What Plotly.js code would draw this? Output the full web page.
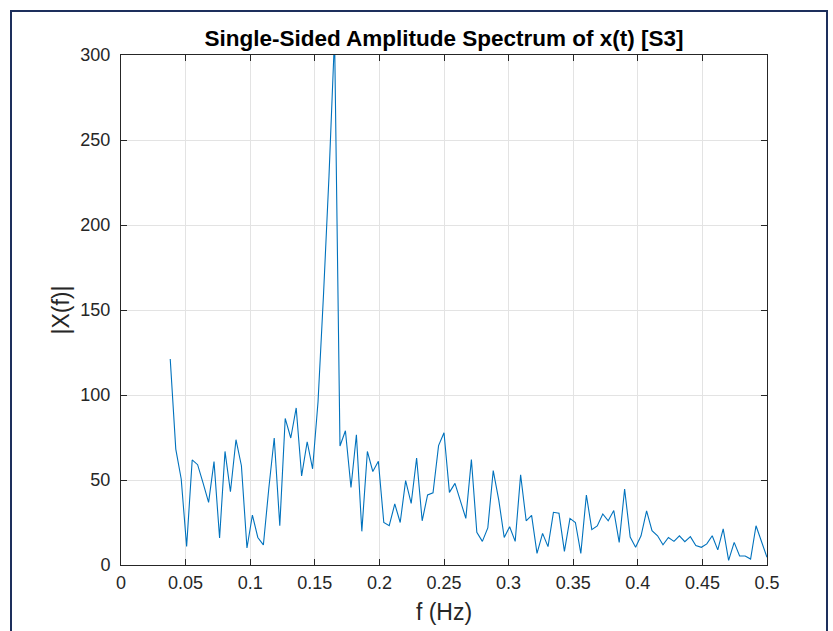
<!DOCTYPE html>
<html>
<head>
<meta charset="utf-8">
<script src="https://cdn.plot.ly/plotly-3.0.1.min.js"></script>
<style>
  html, body { margin: 0; padding: 0; background: #ffffff; }
  #wrap { position: relative; width: 833px; height: 631px; overflow: hidden; }
  #chart { position: absolute; left: 0; top: 0; width: 833px; height: 631px; }
  #frame { position: absolute; left: 10px; top: 10px; width: 818px; height: 640px;
           border: 2px solid #1d2f5c; pointer-events: none; box-sizing: border-box; }
</style>
</head>
<body>
<div id="wrap">
  <div id="chart"></div>
  <div id="frame"></div>
</div>
<script>
// Frequency bins (Hz)
const freq = [
  0.0381, 0.0424, 0.0466, 0.0508, 0.0551, 0.0593, 0.0636, 0.0678, 0.0720, 0.0763,
  0.0805, 0.0847, 0.0890, 0.0932, 0.0975, 0.1017, 0.1059, 0.1102, 0.1144, 0.1186,
  0.1229, 0.1271, 0.1314, 0.1356, 0.1398, 0.1441, 0.1483, 0.1525, 0.1568, 0.1610,
  0.1653, 0.1695, 0.1737, 0.1780, 0.1822, 0.1864, 0.1907, 0.1949, 0.1992, 0.2034,
  0.2076, 0.2119, 0.2161, 0.2203, 0.2246, 0.2288, 0.2331, 0.2373, 0.2415, 0.2458,
  0.2500, 0.2542, 0.2585, 0.2627, 0.2669, 0.2712, 0.2754, 0.2797, 0.2839, 0.2881,
  0.2924, 0.2966, 0.3008, 0.3051, 0.3093, 0.3136, 0.3178, 0.3220, 0.3263, 0.3305,
  0.3347, 0.3390, 0.3432, 0.3475, 0.3517, 0.3559, 0.3602, 0.3644, 0.3686, 0.3729,
  0.3771, 0.3814, 0.3856, 0.3898, 0.3941, 0.3983, 0.4025, 0.4068, 0.4110, 0.4153,
  0.4195, 0.4237, 0.4280, 0.4322, 0.4364, 0.4407, 0.4449, 0.4492, 0.4534, 0.4576,
  0.4619, 0.4661, 0.4703, 0.4746, 0.4788, 0.4831, 0.4873, 0.4915, 0.4958, 0.5000
];

// Single-sided amplitude |X(f)|
const amplitude = [
  121.2, 68.2, 50.6, 10.9, 61.8, 59.0, 48.0, 36.8, 60.8, 15.9,
  66.8, 43.1, 73.7, 58.4, 10.0, 29.4, 16.2, 11.8, 45.0, 74.7,
  23.1, 86.2, 74.7, 92.4, 52.4, 72.5, 56.6, 96.0, 160.0, 229.0,
  311.0, 70.0, 79.0, 45.6, 76.6, 19.8, 66.8, 55.0, 61.0, 25.0,
  23.1, 35.9, 25.0, 49.6, 36.2, 62.9, 26.0, 41.2, 42.5, 70.2,
  77.8, 42.7, 48.0, 37.8, 27.4, 62.1, 19.2, 13.9, 21.8, 55.5,
  38.2, 16.2, 22.5, 13.9, 53.1, 26.0, 29.2, 6.8, 18.6, 10.8,
  31.0, 30.4, 8.0, 27.4, 25.0, 6.8, 41.2, 20.8, 23.0, 30.0,
  26.0, 32.0, 13.3, 44.7, 16.4, 10.4, 17.2, 31.9, 20.2, 17.2,
  11.9, 16.2, 13.9, 17.2, 13.7, 16.7, 11.4, 10.4, 12.4, 17.2,
  8.9, 21.2, 2.7, 13.3, 5.3, 5.3, 3.5, 23.1, 14.0, 4.5
];

const xTickVals = [0, 0.05, 0.1, 0.15, 0.2, 0.25, 0.3, 0.35, 0.4, 0.45, 0.5];
const xTickText = ["0", "0.05", "0.1", "0.15", "0.2", "0.25", "0.3", "0.35", "0.4", "0.45", "0.5"];
const yTickVals = [0, 50, 100, 150, 200, 250, 300];
const yTickText = ["0", "50", "100", "150", "200", "250", "300"];

const FONT = '"Liberation Sans", Arial, Helvetica, sans-serif';
const AX = '#262626';

const trace = {
  x: freq,
  y: amplitude,
  type: 'scatter',
  mode: 'lines',
  line: { color: '#0072BD', width: 1.1 },
  hoverinfo: 'x+y'
};

const axisCommon = {
  showline: true,
  linecolor: AX,
  linewidth: 1,
  mirror: 'allticks',
  ticks: 'inside',
  ticklen: 6,
  tickwidth: 1,
  tickcolor: AX,
  showgrid: true,
  gridcolor: '#e3e3e3',
  gridwidth: 1,
  zeroline: false,
  tickfont: { family: FONT, size: 18, color: AX }
};

const layout = {
  width: 833,
  height: 631,
  paper_bgcolor: '#ffffff',
  plot_bgcolor: '#ffffff',
  showlegend: false,
  margin: { l: 121, r: 66, t: 55, b: 66 },
  title: {
    text: '<b>Single-Sided Amplitude Spectrum of x(t) [S3]</b>',
    font: { family: FONT, size: 22.5, color: '#000000' },
    x: 0.5, xref: 'paper', xanchor: 'center',
    y: 1 - 38 / 631, yref: 'container', yanchor: 'middle'
  },
  xaxis: Object.assign({}, axisCommon, {
    range: [0, 0.5],
    tickvals: xTickVals,
    ticktext: xTickText,
    ticklabelstandoff: 1,
    title: { text: 'f (Hz)', font: { family: FONT, size: 23, color: AX }, standoff: 12 }
  }),
  yaxis: Object.assign({}, axisCommon, {
    range: [0, 300],
    tickvals: yTickVals,
    ticktext: yTickText,
    ticklabelstandoff: 6,
    title: { text: '|X(f)|', font: { family: FONT, size: 23, color: AX }, standoff: 4 }
  })
};

Plotly.newPlot('chart', [trace], layout, { displayModeBar: false, staticPlot: true });
</script>
</body>
</html>
